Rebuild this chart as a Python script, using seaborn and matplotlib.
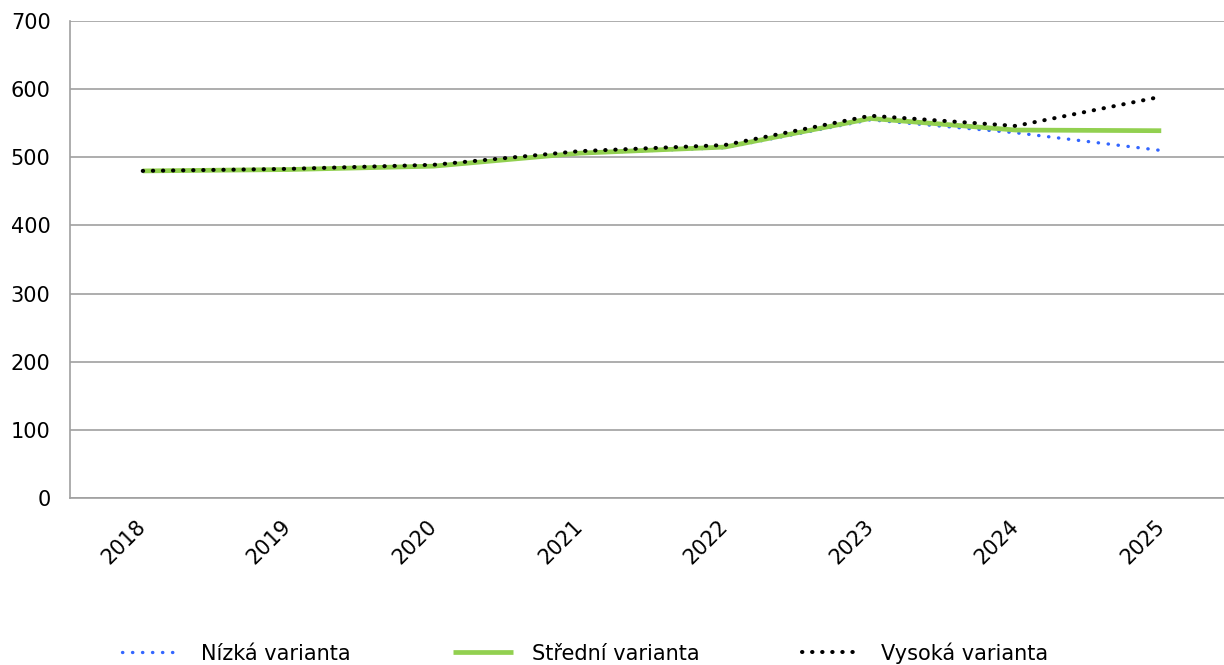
import matplotlib
matplotlib.use("Agg")
import matplotlib.pyplot as plt
import seaborn as sns
import pandas as pd
import numpy as np

years = ["2018", "2019", "2020", "2021", "2022", "2023", "2024", "2025"]
nizka = [480, 482, 487, 506, 514, 555, 536, 510]
stredni = [480, 482, 487, 506, 515, 557, 540, 539]
vysoka = [480, 483, 489, 509, 518, 561, 546, 589]
labels = ["Nízká varianta", "Střední varianta", "Vysoká varianta"]
y_ticks = [0, 100, 200, 300, 400, 500, 600, 700]

sns.set_theme(style="white")
plt.rcParams['font.family'] = ['DejaVu Sans']
plt.rcParams['text.color'] = 'black'
plt.rcParams['xtick.labelcolor'] = 'black'
plt.rcParams['ytick.labelcolor'] = 'black'

W, H = 1224, 665
fig = plt.figure(figsize=(W / 100, H / 100), dpi=100)
left, right, top, bottom = 70, 1234, 21, 498
ax = fig.add_axes([left / W, 1 - bottom / H, (right - left) / W, (bottom - top) / H])

x = np.arange(len(years))
df = pd.DataFrame({"x": x, "n": nizka, "s": stredni, "v": vysoka})

sns.lineplot(data=df, x="x", y="n", ax=ax, color="#3366FF", lw=2.4,
             linestyle=(0, (0.1, 2.9)), dash_capstyle="round", label=labels[0])
sns.lineplot(data=df, x="x", y="s", ax=ax, color="#92D050", lw=3.4,
             solid_capstyle="butt", label=labels[1])
sns.lineplot(data=df, x="x", y="v", ax=ax, color="black", lw=2.9,
             linestyle=(0, (0.1, 2.4)), dash_capstyle="round", label=labels[2])

ax.set_xlim(-0.5, 7.5)
ax.set_ylim(0, 700)
ax.set_yticks(y_ticks)
ax.set_yticklabels([str(v) for v in y_ticks], fontsize=15)
ax.set_xticks(x)
ax.set_xticklabels(years, rotation=45, fontsize=15, ha="right", va="center",
                   rotation_mode="anchor")
ax.set_xticks(np.arange(-0.5, 8.0, 1.0), minor=True)
ax.tick_params(axis="x", which="major", length=0, pad=18)
ax.tick_params(axis="x", which="minor", length=5, color="#A0A0A0", width=1.2, direction="out")
ax.tick_params(axis="y", which="major", length=5, color="#A0A0A0", width=1.2, direction="out", pad=9)
ax.set_xlabel("")
ax.set_ylabel("")
ax.grid(axis="y", color="#A0A0A0", lw=1.2)
ax.grid(axis="x", visible=False)
for s in ["top", "right"]:
    ax.spines[s].set_visible(False)
for s in ["left", "bottom"]:
    ax.spines[s].set_color("#A0A0A0")
    ax.spines[s].set_linewidth(1.2)
ax.set_axisbelow(True)

handles, labs = ax.get_legend_handles_labels()
ax.get_legend().remove()
fig.legend(handles, labs, loc="center", bbox_to_anchor=(0.478, 1 - 653 / H), ncol=3,
           frameon=False, fontsize=15, handlelength=2.9, handletextpad=0.9,
           columnspacing=4.9)

fig.savefig("out.png", dpi=100)
